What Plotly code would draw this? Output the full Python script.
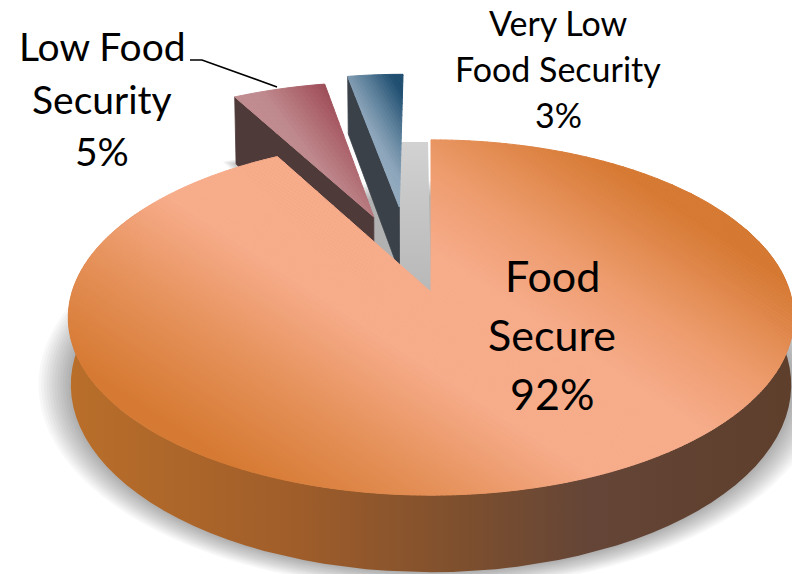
import math
import plotly.graph_objects as go

categories = ["Food Secure", "Low Food Security", "Very Low Food Security"]
values = [92, 5, 3]
label_lines = [["Food", "Secure", "92%"], ["Low Food", "Security", "5%"], ["Very Low", "Food Security", "3%"]]

W, H = 792, 574
CX, CY, RX, RY, K, THICK = 431, 292, 359, 174, 0.1436, 66


def hexrgb(c):
    return tuple(int(c[i:i + 2], 16) for i in (1, 3, 5))


def ramp(stops, t):
    if t <= stops[0][0]:
        return stops[0][1]
    for (a, ca), (b, cb) in zip(stops, stops[1:]):
        if t <= b:
            f = (t - a) / (b - a)
            r = [round(x + (y - x) * f) for x, y in zip(hexrgb(ca), hexrgb(cb))]
            return "rgb(%d,%d,%d)" % tuple(r)
    return stops[-1][1]


def proj(u, v):
    s = 1 / (1 - K * v)
    return CX + RX * u * s, CY + RY * v * s, s


def rim(deg, off=(0, 0)):
    a = math.radians(deg)
    return proj(math.sin(a) + off[0], -math.cos(a) + off[1])


def drop(p, thick=THICK):
    x, y, s = p
    return CX + (x - CX) * 0.993, y + thick * s


def wedge(a0, a1, off=(0, 0), n=80):
    pts = [proj(off[0], off[1])]
    for i in range(n + 1):
        pts.append(rim(a0 + (a1 - a0) * i / n, off))
    return [(p[0], p[1]) for p in pts]


def clip(poly, nx, ny, lim, keep_above):
    out = []
    m = len(poly)
    for i in range(m):
        a, b = poly[i], poly[(i + 1) % m]
        da = nx * a[0] + ny * a[1] - lim
        db = nx * b[0] + ny * b[1] - lim
        if not keep_above:
            da, db = -da, -db
        if da >= 0:
            out.append(a)
        if (da >= 0) != (db >= 0):
            f = da / (da - db)
            out.append((a[0] + (b[0] - a[0]) * f, a[1] + (b[1] - a[1]) * f))
    return out


fig = go.Figure()


def add_poly(pts, color, line=False):
    fig.add_trace(go.Scatter(
        x=[p[0] for p in pts] + [pts[0][0]], y=[p[1] for p in pts] + [pts[0][1]],
        mode="lines", fill="toself", fillcolor=color,
        line=dict(width=0.8 if line else 0, color=color), hoverinfo="skip", showlegend=False))


def add_grad(parts, nx, ny, ox, oy, stops, step=6):
    ps = [nx * p[0] + ny * p[1] for part in parts for p in part]
    base = nx * ox + ny * oy
    lo, hi = min(ps), max(ps)
    t = lo
    while t < hi:
        xs, ys = [], []
        for part in parts:
            q = clip(clip(part, nx, ny, t, True), nx, ny, t + step, False)
            if len(q) >= 3:
                xs += [p[0] for p in q] + [q[0][0], None]
                ys += [p[1] for p in q] + [q[0][1], None]
        if xs:
            c = ramp(stops, t + step / 2 - base)
            fig.add_trace(go.Scatter(x=xs, y=ys, mode="lines", fill="toself", fillcolor=c,
                                     line=dict(width=1.0, color=c), hoverinfo="skip", showlegend=False))
        t += step


total = sum(values)
a_main = 360 * values[0] / total
a_low = a_main + 360 * values[1] / total
OFF_LOW = (-0.17, -0.46)
OFF_VLOW = (-0.095, -0.525)

# soft shadow under the main piece
outline = [drop(rim(d)) for d in range(0, 360, 3)]
for i in range(12, 0, -1):
    f = 1 + i * 0.0075
    add_poly([(430 + (x - 430) * f, 385 + (y - 385) * f) for x, y in outline], "rgba(0,0,0,0.026)")

# soft shadow behind the low slice
low_foot = [drop(rim(d, OFF_LOW), 80) for d in (a_main, (a_main + a_low) / 2, a_low)] + [drop(proj(*OFF_LOW), 80)]
for i in range(6, 0, -1):
    f = 1 + i * 0.035
    add_poly([(300 + (x - 300) * f, 175 + (y - 175) * f) for x, y in low_foot], "rgba(0,0,0,0.04)")

# grey floor seen through the gap
gap = [(400, 142), (428, 142), (431, 292), (400, 270), (400, 142)]
fig.add_trace(go.Scatter(x=[p[0] for p in gap], y=[p[1] for p in gap], mode="lines", fill="toself",
                         line=dict(width=0), hoverinfo="skip", showlegend=False,
                         fillgradient=dict(type="vertical", start=142, stop=292,
                                           colorscale=[[0, "#D2D2D2"], [0.35, "#C8C8C8"], [1, "#B8B8B8"]])))

# very low slice
vl_top = wedge(a_low, 360, OFF_VLOW, 20)
vl_a, vl_b = proj(*OFF_VLOW), rim(a_low, OFF_VLOW)
add_poly([vl_b[:2], vl_a[:2], drop(vl_a, 70), drop(vl_b, 70)], "#3A4149", True)
add_grad([vl_top], 0.86, -0.5, 372, 140, [(-40, "#A8BACA"), (5, "#8CA5BA"), (25, "#5F829C"), (50, "#1F4E70")], 3)

# low slice
lo_top = wedge(a_main, a_low, OFF_LOW, 20)
lo_a, lo_b = proj(*OFF_LOW), rim(a_main, OFF_LOW)
add_poly([lo_b[:2], lo_a[:2], drop(lo_a, 80), drop(lo_b, 80)], "#4F3A3A", True)
add_grad([lo_top], 0.8, -0.6, 290, 130, [(-90, "#C49598"), (0, "#BF8A8E"), (40, "#A95D66"), (70, "#8F3E4A")], 4)

# main slice wall
front = list(range(60, 301, 3))
wall = [rim(d)[:2] for d in front] + [drop(rim(d)) for d in reversed(front)]
fig.add_trace(go.Scatter(x=[p[0] for p in wall] + [wall[0][0]], y=[p[1] for p in wall] + [wall[0][1]],
                         mode="lines", fill="toself", line=dict(width=0), hoverinfo="skip", showlegend=False,
                         fillgradient=dict(type="horizontal", start=66, stop=792,
                                           colorscale=[[0, "#BA6F2A"], [0.32, "#9F5D2A"], [0.55, "#7D4F2E"],
                                                       [0.72, "#644537"], [1, "#5E3F2C"]])))

# main slice top
mid = a_main / 2
parts = [wedge(0, mid, n=70), wedge(mid, a_main, n=70)]
add_grad(parts, 0.55, -0.835, 430, 320,
         [(-230, "#D67A33"), (-140, "#E59058"), (-40, "#F7AC8A"), (60, "#F7AC8A"), (130, "#EE9C6E"), (230, "#D67A33")], 3)

# leader line
fig.add_trace(go.Scatter(x=[190, 202, 277], y=[60, 60, 87], mode="lines",
                         line=dict(color="black", width=1.6), hoverinfo="skip", showlegend=False))

placements = [(552, (275, 334, 393), 43), (102, (46, 99, 151), 39), (558, (22, 68, 114), 34)]
for lines, (x, ys, size) in zip(label_lines, placements):
    for line, y in zip(lines, ys):
        fig.add_annotation(x=x, y=y, text=line, showarrow=False, xanchor="center", yanchor="middle",
                           font=dict(family="Lato", size=size, color="black"))

fig.update_layout(width=W, height=H, autosize=False, margin=dict(l=0, r=0, t=0, b=0),
                  paper_bgcolor="white", plot_bgcolor="white", showlegend=False,
                  xaxis=dict(range=[0, W], visible=False, fixedrange=True),
                  yaxis=dict(range=[H, 0], visible=False, fixedrange=True))
fig.write_html("out.html", config={"displayModeBar": False},
               post_script="document.body.style.margin='0';document.body.style.overflow='hidden';")
